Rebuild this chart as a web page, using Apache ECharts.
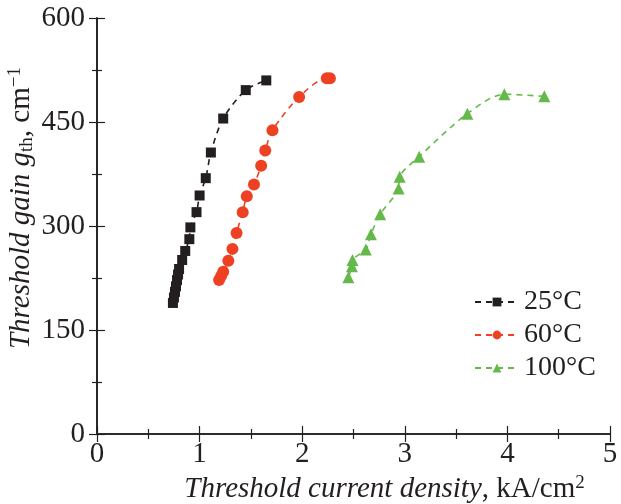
<!DOCTYPE html>
<html><head><meta charset="utf-8">
<script src="https://cdn.jsdelivr.net/npm/echarts@6/dist/echarts.min.js"></script>
<style>html,body{margin:0;padding:0;background:#fff}#c{width:621px;height:504px}</style>
</head><body><div id="c"></div>
<script>
const seriesNames = ['25°C', '60°C', '100°C'];
const x25 = [0.74, 0.75, 0.76, 0.77, 0.78, 0.79, 0.80, 0.83, 0.86, 0.90, 0.91, 0.97, 1.00, 1.06, 1.11, 1.23, 1.45, 1.65];
const y25 = [189, 197, 205, 213, 222, 230, 238, 251, 264, 281, 298, 320, 344, 369, 406, 455, 496, 510];
const x60 = [1.19, 1.21, 1.23, 1.28, 1.32, 1.36, 1.42, 1.46, 1.53, 1.60, 1.64, 1.71, 1.97, 2.24, 2.27];
const y60 = [222, 228, 234, 250, 267, 290, 320, 343, 360, 387, 409, 438, 486, 513, 513];
const x100 = [2.45, 2.485, 2.49, 2.62, 2.67, 2.76, 2.94, 2.95, 3.14, 3.61, 3.97, 4.36];
const y100 = [226, 242, 251, 266, 288, 317, 354, 371, 400, 462, 490, 487];
const xTicks = [0, 1, 2, 3, 4, 5];
const yTicks = [0, 150, 300, 450, 600];
const colors = ['#231f20', '#ee4123', '#65b94a'];
const symbols = ['rect', 'circle', 'triangle'];
const symSizes = [10, 12, 12];

const font = '"Liberation Serif", "Times New Roman", Times, serif';
const FS = 29;
const pairs = (xs, ys) => xs.map((v, i) => [v, ys[i]]);
const data = [pairs(x25, y25), pairs(x60, y60), pairs(x100, y100)];

const axisLine = {show: true, lineStyle: {color: '#231f20', width: 1.6}};
const tick = {inside: true, length: 8, lineStyle: {color: '#231f20', width: 1.2}};
const minor = {show: true, splitNumber: 2, length: 5, lineStyle: {color: '#231f20', width: 1.2}};
const chart = echarts.init(document.getElementById('c'), null, {renderer: 'canvas'});
chart.setOption({
  animation: false,
  grid: {left: 97, right: 11, top: 18, bottom: 70, outerBoundsMode: 'none', containLabel: false},
  xAxis: [{
    type: 'value', min: xTicks[0], max: xTicks[xTicks.length - 1], interval: 1,
    axisLine, splitLine: {show: false}, axisTick: tick, minorTick: minor,
    axisLabel: {fontFamily: font, fontSize: FS, color: '#231f20', margin: 6},
    name: '{i|Threshold current density}{n|, kA/cm}{s|2}',
    nameLocation: 'middle', nameGap: 40,
    nameTextStyle: {padding: [0, 0, 0, 62], rich: {
      i: {fontFamily: font, fontStyle: 'italic', fontSize: FS, color: '#231f20'},
      n: {fontFamily: font, fontSize: FS, color: '#231f20'},
      s: {fontFamily: font, fontSize: 19, color: '#231f20', verticalAlign: 'top', padding: [0, 0, 12, 0]}
    }}
  }, {
    type: 'value', position: 'top', min: 0, max: 5, interval: 1,
    axisLine, splitLine: {show: false}, axisLabel: {show: false}, axisTick: tick, minorTick: minor
  }],
  yAxis: [{
    type: 'value', min: yTicks[0], max: yTicks[yTicks.length - 1], interval: 150,
    axisLine, splitLine: {show: false}, axisTick: tick, minorTick: minor,
    axisLabel: {fontFamily: font, fontSize: FS, color: '#231f20', margin: 12},
    name: '{i|Threshold gain g}{b|th}{n|, cm}{s|−1}',
    nameLocation: 'middle', nameGap: 60, nameRotate: 90, nameMoveOverlap: false,
    nameTextStyle: {padding: [0, 0, 0, 36], rich: {
      i: {fontFamily: font, fontStyle: 'italic', fontSize: FS, color: '#231f20'},
      b: {fontFamily: font, fontSize: 19, color: '#231f20', verticalAlign: 'bottom', padding: [10, 0, 0, 0]},
      n: {fontFamily: font, fontSize: FS, color: '#231f20'},
      s: {fontFamily: font, fontSize: 19, color: '#231f20', verticalAlign: 'top', padding: [0, 0, 12, 0]}
    }}
  }, {
    type: 'value', position: 'right', min: 0, max: 600, interval: 150,
    axisLine, splitLine: {show: false}, axisLabel: {show: false}, axisTick: tick, minorTick: minor
  }],
  legend: {
    orient: 'vertical', left: 469, top: 283, itemWidth: 44, itemHeight: 11, itemGap: 5,
    textStyle: {fontFamily: font, fontSize: 28, color: '#231f20'},
    data: seriesNames
  },
  series: data.map((d, k) => ({
    name: seriesNames[k], type: 'line', data: d, smooth: 0.3,
    symbol: symbols[k], symbolSize: symSizes[k],
    itemStyle: {color: colors[k]},
    lineStyle: {color: colors[k], type: [6, 5], width: 1.6}
  }))
});
</script></body></html>
